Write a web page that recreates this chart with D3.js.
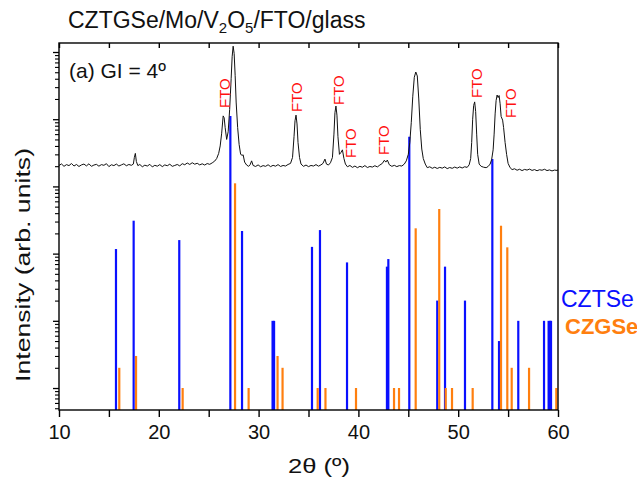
<!DOCTYPE html>
<html><head><meta charset="utf-8">
<script src="https://cdn.jsdelivr.net/npm/d3@7"></script>
<style>
body{margin:0;background:#fff;}
text{font-family:"Liberation Sans",Arial,sans-serif;}
</style></head>
<body><svg id="c" width="637" height="478"></svg>
<script>
// ---- data ----
const cztseTheta = [15.71,17.48,22.05,27.17,28.34,31.40,31.55,35.35,36.15,38.86,42.86,43.00,45.10,47.90,48.68,50.68,53.42,54.09,56.02,58.60,59.06,59.20,59.30];
const cztseInt   = [117,309,159,11160,217,10,10,126,224,74,64,83,5490,20,64,20,2557,5,10,10,10,10,10];
const czgseTheta = [16.04,17.72,22.39,27.64,29.00,31.90,32.40,35.92,36.70,39.76,43.57,44.07,45.74,48.10,48.75,49.38,51.45,54.29,54.92,55.36,57.10,59.83];
const czgseInt   = [2,3,1,1112,1,3,2,1,1,1,1,1,238,461,1,1,1,260,124,2,2,1];
const ftoTheta = [26.63,33.85,38.06,39.26,42.57,51.88,55.29];
const ftoLabelInt = [14680,12800,16270,2647,2933,20660,10420];
const xTicks = [10,15,20,25,30,35,40,45,50,55,60];
const xLabels = [10,20,30,40,50,60];
const pattern = [[10.0,2050],[10.25,2160],[10.5,1990],[10.75,2110],[11.0,2040],[11.25,2190],[11.5,2010],[11.75,2120],[12.0,1980],[12.25,2090],[12.5,2150],[12.75,2020],[13.0,2170],[13.25,1990],[13.5,2080],[13.75,2130],[14.0,2000],[14.25,2110],[14.5,2060],[14.75,2180],[15.0,1970],[15.25,2100],[15.5,2040],[15.75,2150],[16.0,2010],[16.25,2090],[16.5,2170],[16.75,2030],[17.0,2120],[17.25,2060],[17.45,2150],[17.55,2700],[17.65,3100],[17.75,2350],[17.9,2040],[18.1,2120],[18.35,1960],[18.6,2070],[18.85,2010],[19.1,2130],[19.35,1950],[19.6,2060],[19.85,2000],[20.1,2110],[20.35,1970],[20.6,2090],[20.85,2030],[21.1,2140],[21.35,1990],[21.6,2050],[21.85,2120],[22.1,2020],[22.35,2180],[22.6,2100],[22.85,2230],[23.1,2120],[23.35,2250],[23.6,2140],[23.85,2210],[24.1,2090],[24.35,2170],[24.6,2080],[24.85,2190],[25.1,2130],[25.35,2240],[25.6,2380],[25.8,2600],[26.0,3100],[26.15,4000],[26.3,6200],[26.45,11200],[26.55,10500],[26.65,7500],[26.8,5000],[26.95,6500],[27.1,14000],[27.25,40000],[27.35,85000],[27.45,122000],[27.55,95000],[27.65,45000],[27.75,18000],[27.9,7500],[28.05,4200],[28.2,3000],[28.35,2900],[28.45,2950],[28.6,2300],[28.8,2080],[29.0,1990],[29.15,2100],[29.3,2400],[29.45,2050],[29.7,1980],[29.95,2090],[30.2,1960],[30.45,2040],[30.7,1990],[30.95,2100],[31.2,1970],[31.45,2060],[31.7,2000],[31.95,2110],[32.2,1980],[32.45,2050],[32.7,2010],[32.95,2120],[33.2,2200],[33.4,2700],[33.55,5500],[33.65,9500],[33.75,11500],[33.85,8500],[33.95,4500],[34.1,2700],[34.25,2150],[34.5,1990],[34.75,2080],[35.0,1970],[35.25,2050],[35.5,2010],[35.75,2110],[36.0,2000],[36.25,2090],[36.45,2200],[36.65,2550],[36.8,2150],[37.0,2080],[37.2,2250],[37.4,2700],[37.55,6000],[37.65,12500],[37.75,15700],[37.85,11500],[37.95,5500],[38.1,3000],[38.25,3200],[38.4,3500],[38.55,2600],[38.7,2150],[38.9,1960],[39.15,2050],[39.4,1920],[39.65,2010],[39.9,1900],[40.15,1990],[40.4,1930],[40.65,2040],[40.9,1910],[41.15,1980],[41.4,1940],[41.65,2030],[41.9,1950],[42.15,2080],[42.4,2200],[42.6,2450],[42.75,2300],[42.9,2470],[43.1,2100],[43.35,1990],[43.6,2060],[43.85,1970],[44.1,2040],[44.35,2010],[44.6,2150],[44.8,2400],[45.0,3000],[45.15,4500],[45.3,9000],[45.45,22000],[45.6,42000],[45.75,50400],[45.9,44000],[46.05,20000],[46.2,7000],[46.35,3600],[46.5,2600],[46.7,2150],[46.9,1900],[47.15,1960],[47.4,1860],[47.65,1930],[47.9,1850],[48.15,1920],[48.4,1870],[48.65,1950],[48.9,1840],[49.15,1910],[49.4,1860],[49.65,1940],[49.9,1870],[50.15,1950],[50.4,1880],[50.65,1960],[50.9,1920],[51.1,2100],[51.25,2600],[51.35,4500],[51.45,10000],[51.55,16000],[51.65,18100],[51.75,13000],[51.85,6000],[51.95,3000],[52.1,2150],[52.3,1990],[52.55,1930],[52.8,1900],[53.0,1980],[53.2,2150],[53.35,2500],[53.5,3500],[53.6,6000],[53.7,12000],[53.8,19000],[53.9,22900],[54.0,21000],[54.1,22500],[54.2,17000],[54.3,11000],[54.45,9700],[54.55,7500],[54.7,4500],[54.85,3000],[55.0,2200],[55.2,1900],[55.4,1780],[55.65,1830],[55.9,1740],[56.15,1800],[56.4,1720],[56.65,1790],[56.9,1750],[57.15,1810],[57.4,1730],[57.65,1780],[57.9,1710],[58.15,1770],[58.4,1740],[58.65,1800],[58.9,1720],[59.15,1760],[59.4,1700],[59.65,1750],[59.9,1730],[60.0,1760]];

// ---- layout ----
const L=59,R=558,T=43,B=410;
const svg=d3.select("#c");
const x=d3.scaleLinear().domain([10,60]).range([L,R]);
const y=d3.scaleLog().domain([Math.pow(10,-0.327),Math.pow(10,5.134)]).range([B,T]);

svg.append("clipPath").attr("id","clip").append("rect").attr("x",L).attr("y",T).attr("width",R-L).attr("height",B-T);
const g=svg.append("g").attr("clip-path","url(#clip)");

const BLUE="#0a10ff", ORANGE="#ff7f0f";
g.selectAll("line.b").data(cztseTheta).join("line").attr("class","b")
 .attr("x1",d=>x(d)).attr("x2",d=>x(d)).attr("y1",B).attr("y2",(d,i)=>y(cztseInt[i]))
 .attr("stroke",BLUE).attr("stroke-width",2.2);
g.selectAll("line.o").data(czgseTheta).join("line").attr("class","o")
 .attr("x1",d=>x(d)).attr("x2",d=>x(d)).attr("y1",B).attr("y2",(d,i)=>y(czgseInt[i]))
 .attr("stroke",ORANGE).attr("stroke-width",2.2);

g.append("path").datum(pattern).attr("fill","none").attr("stroke","#111").attr("stroke-width",1)
 .attr("d",d3.line().x(d=>x(d[0])).y(d=>y(d[1])));

// FTO labels
svg.selectAll("text.fto").data(ftoTheta).join("text").attr("class","fto")
 .attr("transform",(d,i)=>`translate(${x(d)+5.4},${y(ftoLabelInt[i])}) rotate(-90)`)
 .attr("fill","#ff1010").attr("font-size",15).text("FTO");

// frame
svg.append("rect").attr("x",L).attr("y",T).attr("width",R-L).attr("height",B-T)
 .attr("fill","none").attr("stroke","#000").attr("stroke-width",1.4);

// bottom axis
const bx=svg.append("g").attr("transform",`translate(0,${B})`)
 .call(d3.axisBottom(x).tickValues(xTicks).tickSize(7).tickFormat(d=>xLabels.includes(d)?d:""));
bx.select(".domain").remove();
bx.selectAll("line").attr("stroke-width",1.4);
bx.selectAll("text").attr("font-size",20).attr("font-family","Liberation Sans, Arial").attr("dy","0.95em").attr("fill","#111");
// top axis
const tx=svg.append("g").attr("transform",`translate(0,${T})`)
 .call(d3.axisTop(x).tickValues(xTicks).tickSize(-5).tickFormat(""));
tx.select(".domain").remove();
tx.selectAll("line").attr("stroke-width",1.4);
// left axis (log)
const decades=[1,10,100,1000,10000,100000];
const minors=[];
[0.1,1,10,100,1000,10000].forEach(b=>{for(let k=2;k<=9;k++){const v=b*k; if(y(v)<=B&&y(v)>=T) minors.push(v);}});
const ly=svg.append("g").attr("transform",`translate(${L},0)`)
 .call(d3.axisLeft(y).tickValues(decades).tickSize(6).tickFormat(""));
ly.select(".domain").remove(); ly.selectAll("line").attr("stroke-width",1.3);
const ly2=svg.append("g").attr("transform",`translate(${L},0)`)
 .call(d3.axisLeft(y).tickValues(minors).tickSize(4).tickFormat(""));
ly2.select(".domain").remove(); ly2.selectAll("line").attr("stroke-width",1.1);

// titles
const title=svg.append("text").attr("x",68).attr("y",28).attr("font-size",23).attr("fill","#111");
title.append("tspan").text("CZTGSe/Mo/V");
title.append("tspan").attr("font-size",15).attr("dy",5).text("2");
title.append("tspan").attr("dy",-5).text("O");
title.append("tspan").attr("font-size",15).attr("dy",5).text("5");
title.append("tspan").attr("dy",-5).text("/FTO/glass");

svg.append("text").attr("x",69).attr("y",78).attr("font-size",21).attr("fill","#111").text("(a) GI = 4º");

svg.append("text").attr("x",319).attr("y",473).attr("text-anchor","middle").attr("font-size",21).attr("fill","#111")
 .attr("textLength",62).attr("lengthAdjust","spacingAndGlyphs").text("2θ (º)");
svg.append("text").attr("transform","translate(30,265) rotate(-90)").attr("text-anchor","middle").attr("font-size",21).attr("fill","#111")
 .attr("textLength",234).attr("lengthAdjust","spacingAndGlyphs").text("Intensity (arb. units)");

svg.append("text").attr("x",561).attr("y",307).attr("font-size",23).attr("fill",BLUE).text("CZTSe");
svg.append("text").attr("x",565).attr("y",334).attr("font-size",22).attr("font-weight","bold").attr("fill",ORANGE).text("CZGSe");
</script></body></html>
